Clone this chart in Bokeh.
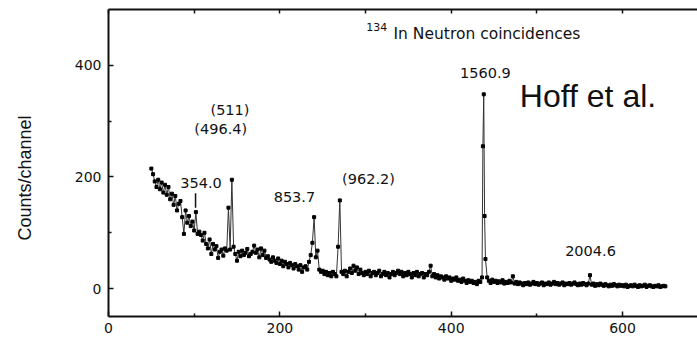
from bokeh.plotting import figure
from bokeh.models import LinearAxis, Range1d, ColumnDataSource, FixedTicker, Label
from bokeh.core.properties import value
from bokeh.embed import file_html
from bokeh.resources import INLINE

# Spectrum: channel numbers (every second channel, single channels across the
# 1560.9 keV line) and counts per channel
channels = list(range(50, 436, 2)) + [436, 437, 438, 439, 440] + list(range(442, 652, 2))
counts = [
    215, 205, 192, 182, 195, 178, 190, 172, 186, 168,
    182, 160, 170, 150, 166, 140, 152, 157, 128, 98,
    140, 118, 130, 112, 120, 104, 137, 98, 102, 96,
    86, 100, 80, 72, 88, 62, 80, 70, 76, 55,
    66, 70, 59, 72, 68, 145, 70, 195, 75, 62,
    50, 66, 58, 68, 60, 64, 71, 58, 62, 66,
    77, 64, 70, 56, 72, 60, 68, 55, 58, 52,
    48, 56, 50, 46, 54, 44, 50, 40, 48, 44,
    38, 46, 42, 36, 44, 40, 34, 42, 30, 38,
    40, 34, 48, 60, 82, 128, 56, 68, 34, 30,
    32, 26, 30, 24, 28, 22, 30, 26, 22, 75,
    158, 30, 26, 32, 22, 30, 36, 28, 41, 32,
    38, 26, 34, 28, 24, 30, 26, 32, 22, 28,
    30, 24, 28, 32, 22, 26, 30, 24, 28, 20,
    26, 30, 24, 28, 32, 26, 30, 22, 28, 24,
    30, 26, 20, 28, 24, 30, 22, 26, 28, 20,
    26, 24, 30, 41, 22, 26, 20, 24, 18, 22,
    20, 16, 22, 18, 20, 14, 18, 16, 20, 14,
    16, 12, 18, 14, 10, 15, 12, 14, 10, 12,
    8, 14, 12, 20, 255, 348, 130, 53, 20, 14, 10, 16,
    12, 14, 10, 13, 11, 15, 9, 12, 10, 14,
    11, 22, 9, 12, 8, 11, 9, 6, 10, 8,
    11, 7, 9, 12, 8, 10, 7, 9, 11, 6,
    9, 8, 11, 7, 9, 12, 8, 10, 7, 9,
    11, 6, 9, 8, 10, 7, 9, 11, 8, 6,
    9, 7, 10, 8, 6, 9, 24, 7, 9, 5,
    8, 6, 9, 7, 5, 8, 6, 4, 7, 5,
    8, 6, 4, 7, 5, 6, 4, 7, 3, 5,
    6, 4, 7, 5, 3, 6, 4, 5, 7, 3,
    5, 6, 4, 3, 5, 4, 6, 3, 4, 5,
    4,
]

# Peak annotations (gamma energies in keV) and where they are written
peak_labels = ["(511)", "(496.4)", "354.0", "853.7", "(962.2)", "1560.9", "2004.6"]
peak_label_x = [141.8, 131, 108, 217, 303.5, 440, 562.6]
peak_label_y = [320, 286, 189, 164, 197, 387, 68]

# Marker line under the 354.0 label
marker_x = [101.6]
marker_y0 = [145]
marker_y1 = [171]

x_ticks = [0, 200, 400, 600]
x_minor = [100, 300, 500]
y_ticks = [0, 200, 400]
y_minor = [100, 300]

TICK_FONT = "DejaVu Sans"
INK = "#111111"

p = figure(
    width=697, height=338,
    x_range=Range1d(0, 687.5), y_range=Range1d(-50, 500),
    output_backend="svg", toolbar_location=None,
    x_axis_location=None, y_axis_location=None,
    min_border_left=108, min_border_right=0,
    min_border_top=9, min_border_bottom=22,
    outline_line_color=None,
    background_fill_color="white", border_fill_color="white",
)
p.xgrid.visible = False
p.ygrid.visible = False


def style_axis(ax):
    ax.axis_line_width = 2
    ax.axis_line_color = INK
    ax.major_tick_in = 5
    ax.major_tick_out = 0
    ax.minor_tick_in = 3
    ax.minor_tick_out = 0
    ax.major_tick_line_width = 1.5
    ax.minor_tick_line_width = 1.5
    ax.major_tick_line_color = INK
    ax.minor_tick_line_color = INK
    ax.major_label_text_font = TICK_FONT
    ax.major_label_text_font_size = "14px"
    ax.major_label_text_color = INK
    ax.major_label_standoff = 7


# Bottom axis with labelled ticks
xb = LinearAxis(ticker=FixedTicker(ticks=x_ticks, minor_ticks=x_minor))
style_axis(xb)
xb.major_label_standoff = 6
p.add_layout(xb, "below")

# Top edge: line and inward ticks only
xt = LinearAxis(ticker=FixedTicker(ticks=[], minor_ticks=x_ticks + x_minor))
style_axis(xt)
xt.minor_tick_in = 4
xt.major_label_standoff = 0
p.add_layout(xt, "above")

# Left axis with the vertical title
yl = LinearAxis(ticker=FixedTicker(ticks=y_ticks, minor_ticks=y_minor))
style_axis(yl)
yl.axis_label = "Counts/channel" + "\u00a0" * 6
yl.axis_label_text_font = "Liberation Sans"
yl.axis_label_text_font_size = "18px"
yl.axis_label_text_font_style = "normal"
yl.axis_label_text_color = INK
yl.axis_label_standoff = 37
p.add_layout(yl, "left")

# Spectrum trace
src = ColumnDataSource(dict(x=channels, y=counts))
p.line("x", "y", source=src, line_color="#333333", line_width=1)
p.scatter("x", "y", source=src, marker="square", size=3,
          fill_color="black", line_color="black")

# Peak labels
lab_src = ColumnDataSource(dict(x=peak_label_x, y=peak_label_y, t=peak_labels))
p.text("x", "y", text="t", source=lab_src, text_font=value(TICK_FONT),
       text_font_size="14.5px", text_color=INK,
       text_align="center", text_baseline="middle")
p.segment(x0=marker_x, y0=marker_y0, x1=marker_x, y1=marker_y1,
          line_color=INK, line_width=1.5)

# Title with superscript mass number
p.add_layout(Label(x=300.8, y=469, text="134", text_font=TICK_FONT,
                   text_font_size="11px", text_color=INK,
                   text_align="left", text_baseline="middle"))
p.add_layout(Label(x=332.7, y=457, text="In Neutron coincidences", text_font=TICK_FONT,
                   text_font_size="15.5px", text_color=INK,
                   text_align="left", text_baseline="middle"))

# Attribution
p.add_layout(Label(x=559.7, y=345.5, text="Hoff et al.", text_font="Liberation Sans",
                   text_font_size="32px", text_color="#111111",
                   text_align="center", text_baseline="middle"))

open("out.html", "w").write(file_html(p, INLINE))
